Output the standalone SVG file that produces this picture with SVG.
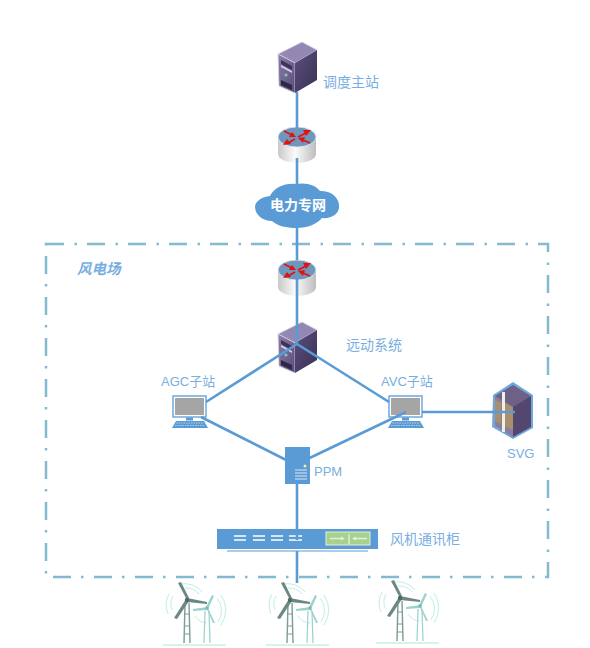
<svg xmlns="http://www.w3.org/2000/svg" xmlns:xlink="http://www.w3.org/1999/xlink" width="590" height="648" viewBox="0 0 590 648">
<style>
text{font-family:"Liberation Sans","Noto Sans CJK SC",sans-serif;fill:#78aee0;font-size:14px}
.s13{font-size:13px}
.link{stroke:#5b9bd5;stroke-width:2.6;fill:none}
.frame{fill:none;stroke:#82bbd1;stroke-width:2.5;stroke-dasharray:18 10.500 2.500 10}
.b{fill:#5b9bd5}
</style>
<defs>
<linearGradient id="cyl" x1="0" x2="1" y1="0" y2="0"><stop offset="0" stop-color="#c9c9c9"/><stop offset=".45" stop-color="#fbfbfb"/><stop offset="1" stop-color="#bdbdbd"/></linearGradient>
<linearGradient id="srvR" x1="0" x2="1" y1="0" y2="1"><stop offset="0" stop-color="#5a4f7c"/><stop offset="1" stop-color="#3b3154"/></linearGradient>
<linearGradient id="srvF" x1="0" x2="1" y1="0" y2="1"><stop offset="0" stop-color="#8d80ac"/><stop offset="1" stop-color="#584b78"/></linearGradient>
<g id="server">
<path d="M0 12 24 0 39 8 17 21Z" fill="#9387b3" stroke="#d8d3e6" stroke-width=".8"/>
<path d="M0 12 17 21 17 51 1 44Z" fill="url(#srvF)" stroke="#d8d3e6" stroke-width=".8"/>
<path d="M17 21 39 8 39 38 17 51Z" fill="url(#srvR)"/>
<path d="M3 18 14 24 14 28 3 22Z" fill="#3d3358"/>
<path d="M3 23 14 29 14 31 3 25Z" fill="#d5d0e2"/>
<circle cx="8" cy="33" r="1.600" fill="#7ec8b8"/>
<path d="M3 38 14 43 14 48 3 43Z" fill="#2e2745"/>
</g>
<g id="router">
<path d="M-19 0V17A19 9 0 0 0 19 17V0Z" fill="url(#cyl)"/>
<ellipse cx="0" cy="0" rx="19" ry="10" fill="#6f97bb" stroke="#dfe6ee" stroke-width=".8"/>
<g stroke="#e41111" stroke-width="1.800" fill="none"><path d="M-13-6-5-2"/><path d="M1 0 9-4"/><path d="M-2 2-9 6"/><path d="M13 6 6 3"/></g>
<g fill="#e41111"><path d="M-1 0-8 0-5-5Z"/><path d="M14-7 6-7 9-1Z"/><path d="M-14 8-10 2-6 7Z"/><path d="M1 1 8 0 6 6Z"/></g>
</g>
<g id="pc">
<rect x="0" y="0" width="33" height="21" fill="#fff" stroke="#6fa8dc" stroke-width="1.500"/>
<rect x="2" y="2" width="29" height="17" fill="#a5a5a5"/>
<rect x="13" y="21.500" width="7" height="3" fill="#5b9bd5"/>
<path d="M3 25H31L35 32H-1Z" fill="#5b9bd5"/>
<path d="M3 27H31M2 29.500H32" stroke="#cfe2f3" stroke-width=".7" stroke-dasharray="1.500 1"/>
</g>
<g id="turbine">
<path d="M2 59H65" stroke="#c8efe6" stroke-width="1.500"/>
<g fill="none" stroke="#bfeee6" stroke-width="1">
<path d="M8 8A23 23 0 0 0 7 28M12 10A17 17 0 0 0 11 24M20 -2A22 22 0 0 1 41 6M24 2A17 17 0 0 1 38 8"/>
<path d="M56 12A20 20 0 0 1 57 36M60 9A26 26 0 0 1 60 39M34 30A15 15 0 0 0 46 37"/>
</g>
<g fill="none" stroke="#7d9c98" stroke-width="1.400"><path d="M24 17 23 57"/><path d="M28 17 29 57"/></g>
<path d="M23.500 40H28.500M23.500 48H28.500M24 28H28" stroke="#7d9c98"/>
<g fill="none" stroke="#9ed4ce" stroke-width="1.300"><path d="M44 25 43 57"/><path d="M48 25 49 57"/></g>
<path d="M26 14 17-3 20-4 28 12Z" fill="#6b8885"/>
<path d="M26 12 46 16 46 18 26 16Z" fill="#6b8885"/>
<path d="M25 13 28 15 16 33 13 32Z" fill="#6b8885"/>
<path d="M45 21 51 9 53 10 47 23Z" fill="#9ad3cd"/>
<path d="M45 21 47 22 54 37 52 37Z" fill="#9ad3cd"/>
<path d="M47 21 47 24 32 25 32 23Z" fill="#9ad3cd"/>
<circle cx="26" cy="14" r="2.200" fill="#4e6967"/>
<circle cx="46" cy="22" r="1.800" fill="#7fb9b3"/>
</g>
</defs>

<rect width="590" height="648" fill="#fff"/>

<g id="frame"><rect class="frame" x="46" y="244" width="502" height="333"/></g>

<g id="node-dispatch"><use xlink:href="#server" href="#server" x="278" y="42"/><text x="323" y="87">调度主站</text></g>
<g id="node-router1"><use xlink:href="#router" href="#router" x="297" y="137"/></g>
<g id="node-router2"><use xlink:href="#router" href="#router" x="297" y="270"/></g>
<g id="node-remote"><use xlink:href="#server" href="#server" x="278" y="322"/><text x="346" y="350">远动系统</text></g>
<g id="node-agc"><use xlink:href="#pc" href="#pc" x="173" y="396"/><text class="s13" x="161" y="386">AGC子站</text></g>
<g id="node-avc"><use xlink:href="#pc" href="#pc" x="389" y="396"/><text class="s13" x="381" y="386">AVC子站</text></g>
<g id="node-svg">
<path d="M513 382 533 395 533 428 513 439 492 427 493 395Z" fill="#6fa8dc"/>
<path d="M513 401 531 396 531 427 513 437Z" fill="#54476f"/>
<path d="M513 401 495 396 495 426 513 437Z" fill="#8a7e9f"/>
<path d="M495 396 513 385 531 396 513 407Z" fill="#6d6188"/>
<path d="M502 392H505V432H502Z" fill="#f2eee6"/>
<path d="M505 403 513 407V430L505 426Z" fill="#a88f6e"/>
<path d="M495 400 501 403V424L495 421Z" fill="#a88f6e"/>
<text class="s13" x="507" y="458">SVG</text>
</g>
<g id="node-ppm">
<rect class="b" x="285" y="447" width="25" height="37"/>
<circle cx="305" cy="466" r="1.500" fill="#ffe699"/>
<path d="M295 470H307M295 473H307M295 476H307M295 479H307" stroke="#dce9f5" stroke-width="1"/>
<text class="s13" x="314" y="476">PPM</text>
</g>
<g id="node-cabinet">
<rect class="b" x="217" y="529" width="161" height="20"/>
<path d="M227 551H368" stroke="#5b9bd5" stroke-width="1.200"/>
<path d="M234 536H246M234 540H246M253 536H265M253 540H265M271 536H283M271 540H283M289 536H302M289 540H302" stroke="#fff" stroke-width="1.400"/>
<rect x="326" y="532" width="44" height="13" fill="#a9d18e" stroke="#e2f0d9"/>
<path d="M330 538.500H342M353 538.500H367M349 534V544" stroke="#e2f0d9" stroke-width="1.400"/>
<path d="M345 538.500 341 536.500V540.500ZM352 538.500 356 536.500V540.500Z" fill="#e2f0d9"/>
<text x="390" y="544">风机通讯柜</text>
</g>
<g id="node-cloud">
<path d="M270 196C274 188 284 183 296 184C306 182 316 185 320 191C332 190 340 199 339 207C339 214 331 219 322 218C316 225 306 228 296 228C286 228 278 226 272 221C262 221 255 214 255 207C255 201 262 197 270 196Z" fill="#5b9bd5"/>
<text x="270" y="210" style="fill:#fff;font-weight:bold">电力专网</text>
</g>
<g id="node-fieldlabel"><text x="77" y="274" style="font-style:italic;font-weight:bold;font-size:14.500px">风电场</text></g>
<g id="node-turbine1"><use xlink:href="#turbine" href="#turbine" x="161" y="586"/></g>
<g id="node-turbine2"><use xlink:href="#turbine" href="#turbine" x="264" y="586"/></g>
<g id="node-turbine3"><use xlink:href="#turbine" href="#turbine" x="374" y="584"/></g>

<g id="connectors">
<path class="link" d="M297 92V128M297 158V186M297 226V260M297 277V344M297 344 206 402M297 344 389 402"/>
<path class="link" d="M201 417 292 463M406 412 297 464M422 412H515"/>
<path class="link" d="M297 484V540M297 551V583"/>
</g>
</svg>
